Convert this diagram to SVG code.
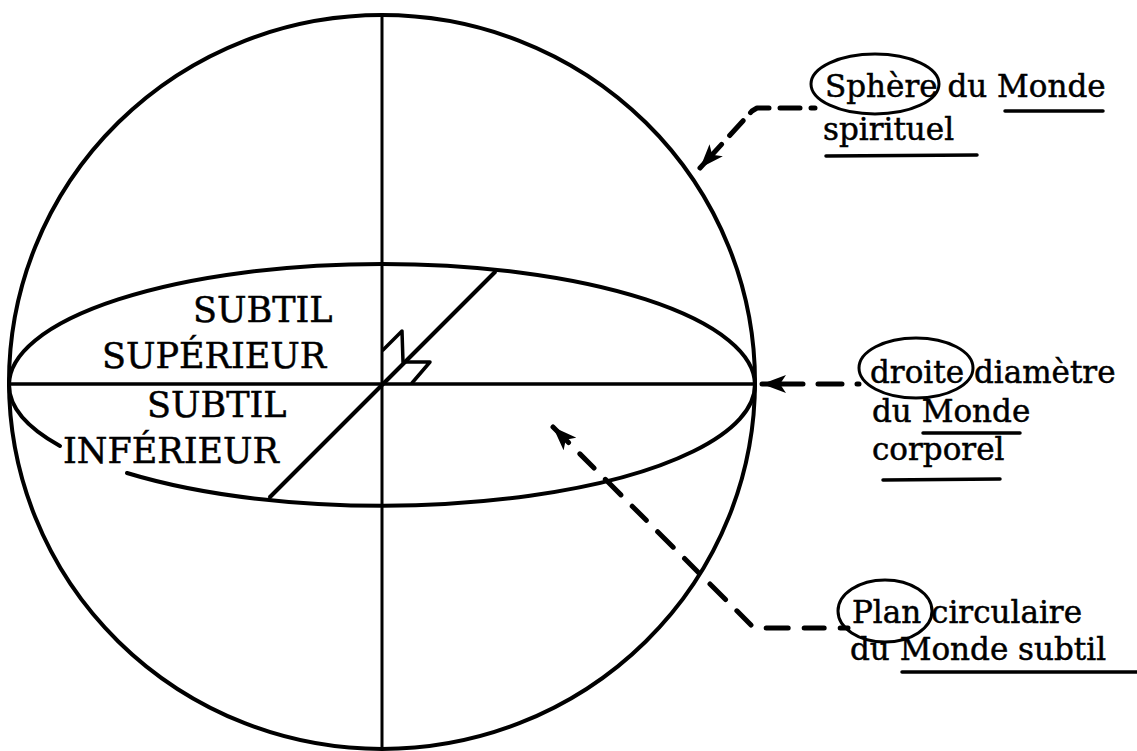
<svg xmlns="http://www.w3.org/2000/svg" width="1137" height="751" viewBox="0 0 1137 751">
<style>
.ln{fill:none;stroke:#000;stroke-linecap:round;stroke-linejoin:round}
.lbl{font-family:"DejaVu Serif","Liberation Serif",serif;fill:#000;stroke:#000;stroke-width:0.5}
.r{font-size:31px}
.l{font-size:35px}
.dash{fill:none;stroke:#000;stroke-width:5;stroke-linecap:round;stroke-linejoin:round}
.ul{fill:none;stroke:#000;stroke-width:3.5;stroke-linecap:round}
.oval{fill:none;stroke:#000;stroke-width:3}
</style>
<defs>
<marker id="ah" viewBox="0 0 24 18" refX="24" refY="9" markerWidth="24" markerHeight="18" markerUnits="userSpaceOnUse" orient="auto-start-reverse">
<path d="M0,0 L24,9 L0,18 L6,9 Z" fill="#000"/>
</marker>
</defs>
<rect width="1137" height="751" fill="#fff"/>
<g id="sphere">
<ellipse class="ln" cx="382" cy="382" rx="373" ry="367" stroke-width="4"/>
<line class="ln" x1="382" y1="15" x2="382" y2="749" stroke-width="3"/>
</g>
<g id="plan">
<path class="ln" stroke-width="4" d="M9,385 A373,121 0 0 1 755,385 A373,121 0 0 1 127,473"/>
<path class="ln" stroke-width="4" d="M60,446 A373,121 0 0 1 9,385"/>
<line class="ln" x1="9" y1="384" x2="755" y2="384" stroke-width="3.5"/>
<line class="ln" x1="270" y1="497" x2="495" y2="272" stroke-width="4"/>
<polyline class="ln" stroke-width="3.5" points="383,350 402,331 403,362"/>
<polyline class="ln" stroke-width="3.5" points="404,362 430,362 412,383"/>
</g>
<g id="label-sup">
<text class="lbl l" x="193" y="322">SUBTIL</text>
<text class="lbl l" x="102" y="368">SUPÉRIEUR</text>
</g>
<g id="label-inf">
<text class="lbl l" x="147" y="417">SUBTIL</text>
<text class="lbl l" x="63" y="463">INFÉRIEUR</text>
</g>
<g id="connectors">
<path class="dash" d="M700,168 L752,111 L757,108 L815,108" stroke-dasharray="32 12 20 11 20 11 20 11 24 11" style="marker-start:url(#ah)"/>
<path class="dash" d="M762,384 L860,384" stroke-dasharray="41 15 24 15 2 40" style="marker-start:url(#ah)"/>
<path class="dash" d="M553,427 L752,626 L757,628 L848,628" stroke-dasharray="22 16 20 16" style="marker-start:url(#ah)"/>
</g>
<g id="note-sphere">
<ellipse class="oval" cx="875" cy="84" rx="64" ry="30"/>
<text class="lbl r" x="825" y="97">Sphère du Monde</text>
<text class="lbl r" x="823" y="140">spirituel</text>
<line class="ul" x1="1005" y1="111" x2="1103" y2="111"/>
<line class="ul" x1="826" y1="156" x2="977" y2="155"/>
</g>
<g id="note-droite">
<ellipse class="oval" cx="916" cy="368" rx="57" ry="30"/>
<text class="lbl r" x="870" y="383">droite diamètre</text>
<text class="lbl r" x="872" y="422">du Monde</text>
<text class="lbl r" x="872" y="460">corporel</text>
<line class="ul" x1="923" y1="433" x2="1020" y2="433"/>
<line class="ul" x1="883" y1="480" x2="1000" y2="479"/>
</g>
<g id="note-plan">
<ellipse class="oval" cx="885" cy="611" rx="47" ry="31"/>
<text class="lbl r" x="852" y="623">Plan circulaire</text>
<text class="lbl r" x="850" y="660">du Monde subtil</text>
<line class="ul" x1="902" y1="672" x2="1137" y2="672"/>
</g>
</svg>
